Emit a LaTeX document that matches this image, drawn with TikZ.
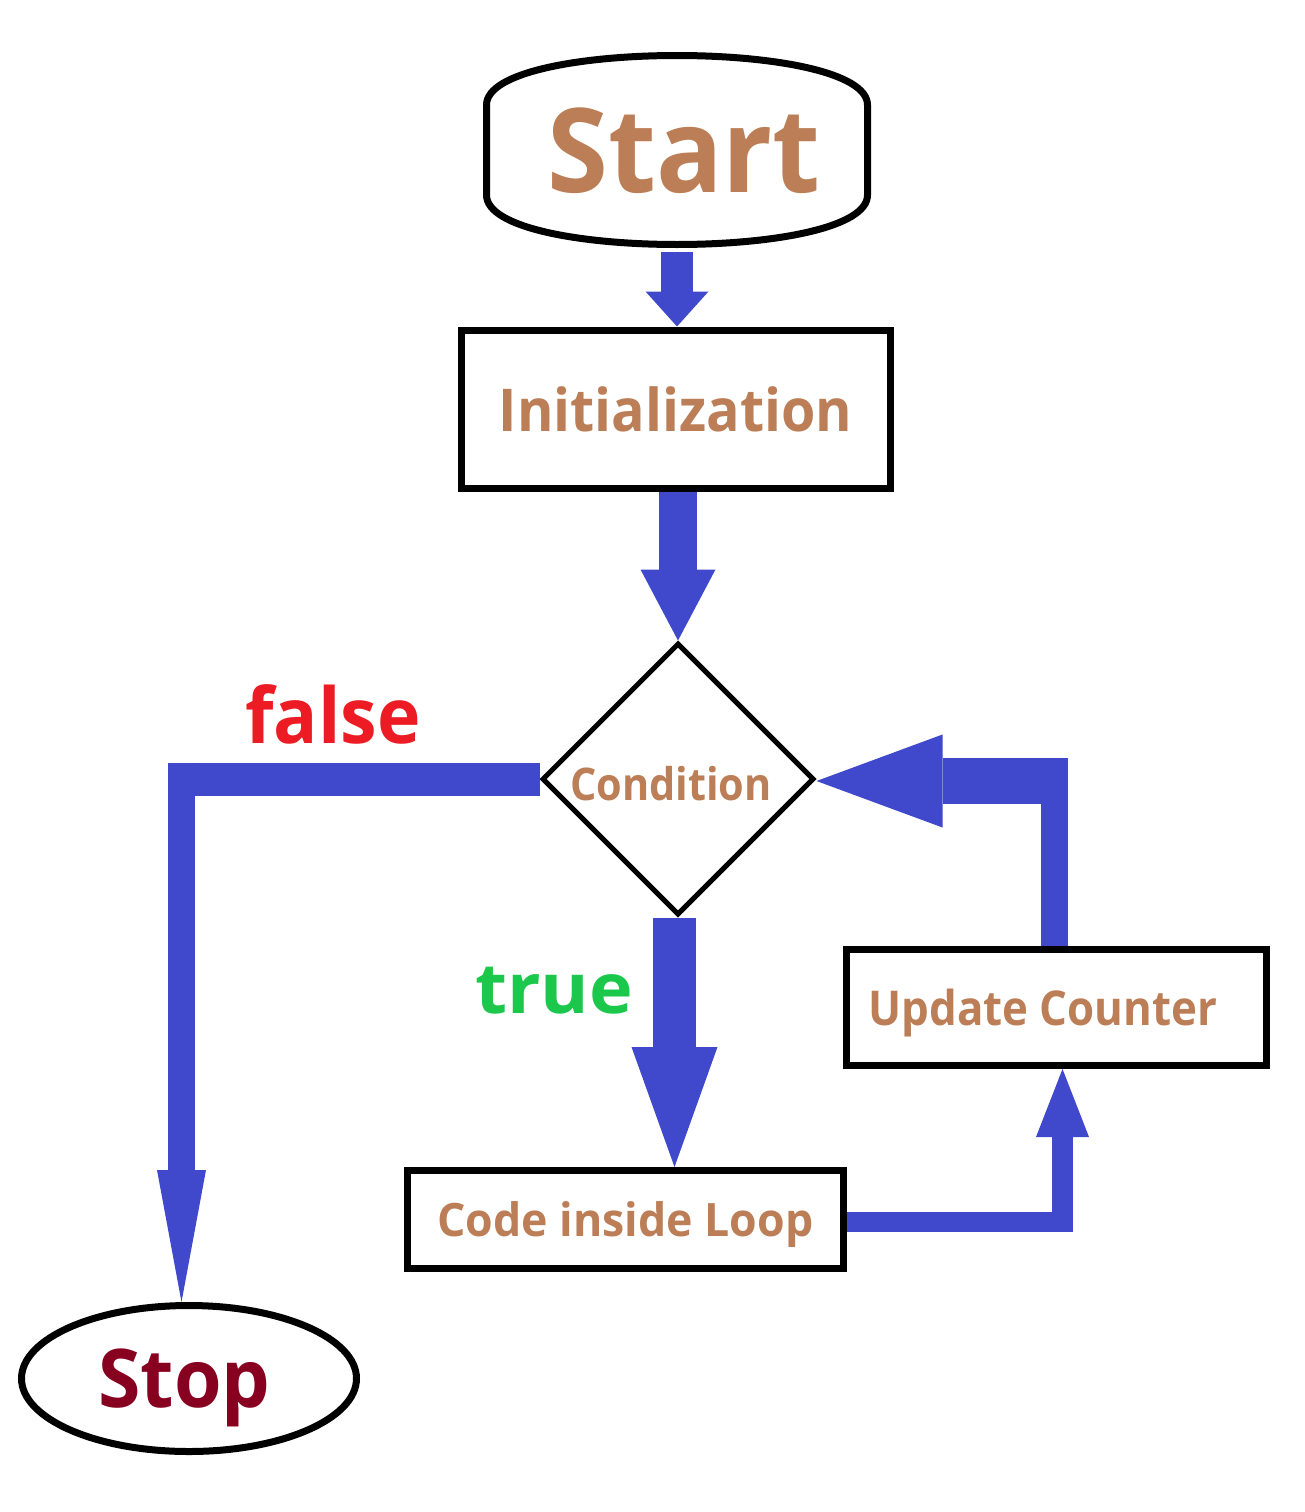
\documentclass[tikz,border=0pt]{standalone}
\usepackage{fontspec}
\setmainfont{Open Sans}
\usetikzlibrary{arrows.meta,shapes.geometric,calc}
\definecolor{flowblue}{RGB}{64,72,204}
\definecolor{txtbrown}{RGB}{188,126,86}
\definecolor{falsered}{RGB}{237,28,36}
\definecolor{truegreen}{RGB}{28,200,76}
\definecolor{stopred}{RGB}{136,0,32}
\newcommand\fsz[1]{\fontsize{#1}{#1}\selectfont}
\newcommand\sx[2]{\scalebox{#1}[1]{#2}}
\begin{document}
\begin{tikzpicture}[x=1pt,y=-1pt,
  boxnode/.style={draw=black, line width=7pt, fill=white, inner sep=0pt, text=txtbrown},
  flow/.style={draw=flowblue, line width=#1},
  head/.style 2 args={-{Triangle[width=#1,length=#2,line width=0pt]}}
]
\fill[white] (0,0) rectangle (1305,1512);
\useasboundingbox (0,0) rectangle (1305,1512);

% Start terminal (barrel shape)
\draw[line width=7pt, fill=white]
  (486.5,195) -- (486.5,105) .. controls (486.5,39) and (867.5,39) .. (867.5,105)
  -- (867.5,195) .. controls (867.5,261) and (486.5,261) .. (486.5,195) -- cycle;
\node[inner sep=0pt, outer sep=3.5pt, minimum width=381pt, minimum height=196pt,
      text=txtbrown, font=\bfseries\fsz{117}, text depth=0pt] (start) at (677,150) {\hspace*{14pt}\sx{0.944}{Start}};

\node[boxnode, minimum width=429pt, minimum height=158pt, font=\bfseries\fsz{59}] (init) at (675.5,409) {\sx{0.943}{Initialization}};

\node[draw=black, line width=5pt, diamond, fill=white, inner sep=0pt,
      minimum width=272pt, minimum height=272pt, text=txtbrown, font=\bfseries\fsz{45},
      text height=42pt, text depth=0pt] (cond) at (678,779) {\sx{0.92}{Condition}\hspace*{14pt}};

\node[boxnode, minimum width=420pt, minimum height=116pt, font=\bfseries\fsz{48}, text depth=0pt] (upd) at (1056.5,1007.5) {\sx{0.913}{Update Counter}\hspace*{27pt}};

\node[boxnode, minimum width=436pt, minimum height=98pt, font=\bfseries\fsz{46}, text depth=0pt] (code) at (625.5,1219.5) {\sx{0.97}{Code inside Loop}};

\node[draw=black, ellipse, line width=7pt, fill=white, inner sep=0pt,
      minimum width=335pt, minimum height=146pt, text=stopred, font=\bfseries\fsz{81}, text depth=0pt] (stop) at (189,1378.5) {\sx{0.95}{Stop}\hspace*{9pt}};

% labels
\node[anchor=base west, inner sep=0pt, text=falsered, font=\bfseries\fsz{77}] (falselbl) at (245,743) {\sx{0.955}{false}};
\node[anchor=base west, inner sep=0pt, text=truegreen, font=\bfseries\fsz{70}] (truelbl) at (475,1013) {\sx{1.055}{true}};

% bend coordinates
\coordinate (fbend) at (181.5,779);
\coordinate (cbend) at (1062.5,1222);
\coordinate (ubend) at (1054.5,781);

% connectors
\draw[flow=32pt, head={63pt}{35pt}] (start.south) -- (start.south |- init.north);
\draw[flow=38pt, head={75pt}{71pt}] (cond.north |- init.south) -- (cond.north);
\draw[flow=43pt, head={86pt}{120pt}] ([xshift=-3.5pt]cond.south) -- ([xshift=-3.5pt]cond.south |- code.north);

\draw[flow=33pt] (cond.west) -- ([xshift=-13.5pt]fbend);
\draw[flow=27pt, head={49pt}{132pt}] ([yshift=16.5pt]fbend) -- (fbend |- stop.north);

\draw[flow=20pt] (code.east |- cbend) -- ([xshift=10.5pt]cbend);
\draw[flow=21pt, head={53pt}{68pt}] ([yshift=-10pt]cbend) -- (cbend |- upd.south);

\draw[flow=27pt] (ubend |- upd.north) -- ([yshift=23pt]ubend);
\draw[flow=46pt, head={93pt}{126pt}] ([xshift=13.5pt]ubend) -- (ubend -| cond.east);
\end{tikzpicture}
\end{document}
